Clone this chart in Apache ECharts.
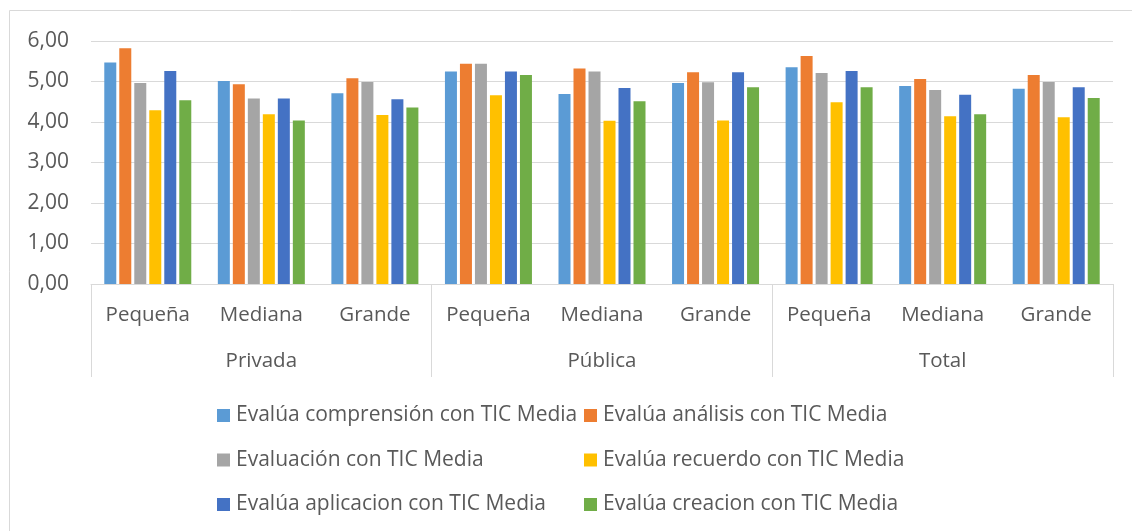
<!DOCTYPE html>
<html>
<head>
<meta charset="utf-8">
<script src="https://cdn.jsdelivr.net/npm/echarts@6/dist/echarts.min.js"></script>
<style>
html,body{margin:0;padding:0;background:#fff;}
#chart{width:1132px;height:531px;}
</style>
</head>
<body>
<div id="chart"></div>
<script>
const subCategories = ['Pequeña','Mediana','Grande','Pequeña','Mediana','Grande','Pequeña','Mediana','Grande'];
const groups = ['Privada','Pública','Total'];
const seriesNames = [
  'Evalúa comprensión con TIC Media',
  'Evalúa análisis con TIC Media',
  'Evaluación con TIC Media',
  'Evalúa recuerdo con TIC Media',
  'Evalúa aplicacion con TIC Media',
  'Evalúa creacion con TIC Media'
];
const comprension = [5.47, 5.01, 4.71, 5.25, 4.69, 4.96, 5.35, 4.89, 4.82];
const analisis    = [5.82, 4.93, 5.08, 5.44, 5.32, 5.23, 5.63, 5.06, 5.16];
const evaluacion  = [4.96, 4.58, 4.99, 5.44, 5.25, 4.98, 5.21, 4.79, 4.99];
const recuerdo    = [4.29, 4.19, 4.17, 4.66, 4.03, 4.04, 4.49, 4.14, 4.12];
const aplicacion  = [5.26, 4.58, 4.56, 5.25, 4.84, 5.23, 5.26, 4.67, 4.86];
const creacion    = [4.54, 4.04, 4.36, 5.16, 4.51, 4.86, 4.86, 4.19, 4.59];
const colors = ['#5B9BD5','#ED7D31','#A5A5A5','#FFC000','#4472C4','#70AD47'];
const allData = [comprension, analisis, evaluacion, recuerdo, aplicacion, creacion];

const FONT = 'Open Sans';
const TXT = '#595959';
const LINE = '#d9d9d9';

const chart = echarts.init(document.getElementById('chart'), null, {renderer:'canvas'});
const legendCommon = {
  orient: 'vertical',
  top: 405,
  itemWidth: 13,
  itemHeight: 13,
  itemGap: 23.5,
  icon: 'rect',
  textStyle: {fontFamily: FONT, fontSize: 21, color: TXT, padding: [0,0,0,1]},
  padding: 0
};
chart.setOption({
  animation: false,
  textStyle: {fontFamily: FONT},
  color: colors,
  graphic: [{
    type: 'rect',
    shape: {x: 9.5, y: 10.5, width: 1300, height: 700},
    style: {fill: 'none', stroke: LINE, lineWidth: 1},
    silent: true
  }],
  grid: {left: 91, right: 19, top: 41, bottom: 247, containLabel: false},
  legend: [
    Object.assign({}, legendCommon, {left: 217, data: [seriesNames[0], seriesNames[2], seriesNames[4]]}),
    Object.assign({}, legendCommon, {left: 584, data: [seriesNames[1], seriesNames[3], seriesNames[5]]})
  ],
  xAxis: [{
    type: 'category',
    data: subCategories,
    position: 'bottom',
    axisLine: {show: true, lineStyle: {color: LINE, width: 1}},
    axisTick: {show: false},
    axisLabel: {interval: 0, margin: 21, fontSize: 20.5, color: TXT, fontFamily: FONT}
  }, {
    type: 'category',
    data: groups,
    position: 'bottom',
    offset: 0,
    gridIndex: 0,
    axisLine: {show: false},
    axisTick: {show: true, length: 93, lineStyle: {color: LINE, width: 1}},
    axisLabel: {interval: 0, margin: 67, fontSize: 20.5, color: TXT, fontFamily: FONT}
  }],
  yAxis: {
    type: 'value',
    min: 0, max: 6, interval: 1,
    axisLine: {show: false},
    axisTick: {show: false},
    splitLine: {lineStyle: {color: LINE, width: 1}},
    axisLabel: {
      margin: 22, fontSize: 21, color: TXT, fontFamily: FONT,
      formatter: v => v.toFixed(2).replace('.', ',')
    }
  },
  series: seriesNames.map((n, i) => ({
    name: n,
    type: 'bar',
    xAxisIndex: 0,
    data: allData[i],
    barWidth: 12,
    barGap: '25%',
    itemStyle: {color: colors[i]}
  }))
});
</script>
</body>
</html>
